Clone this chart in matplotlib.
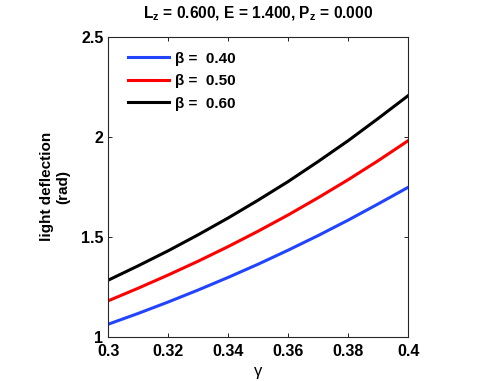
import matplotlib
matplotlib.use("Agg")
import matplotlib.pyplot as plt

plt.rcParams['font.family'] = ['Liberation Sans', 'DejaVu Sans']
plt.rcParams['mathtext.fontset'] = 'custom'
plt.rcParams['mathtext.rm'] = 'Liberation Sans:bold'
plt.rcParams['mathtext.bf'] = 'Liberation Sans:bold'
plt.rcParams['mathtext.it'] = 'Liberation Sans:bold'

gamma = [0.30, 0.31, 0.32, 0.33, 0.34, 0.35, 0.36, 0.37, 0.38, 0.39, 0.40]
beta_040 = [1.063, 1.117, 1.174, 1.234, 1.297, 1.363, 1.433, 1.506, 1.583, 1.664, 1.747]
beta_050 = [1.180, 1.243, 1.309, 1.378, 1.451, 1.528, 1.609, 1.695, 1.785, 1.880, 1.980]
beta_060 = [1.283, 1.355, 1.430, 1.510, 1.594, 1.683, 1.776, 1.876, 1.980, 2.091, 2.205]
labels = ['β =  0.40', 'β =  0.50', 'β =  0.60']
colors = ['#2244ff', '#ff0000', '#000000']
xticks = [0.3, 0.32, 0.34, 0.36, 0.38, 0.4]
xticklabels = ['0.3', '0.32', '0.34', '0.36', '0.38', '0.4']
yticks = [1, 1.5, 2, 2.5]
yticklabels = ['1', '1.5', '2', '2.5']

fig = plt.figure(figsize=(4.99, 3.81), dpi=100)
ax = fig.add_axes([0.217, 0.116, 0.601, 0.788])
for ys, lab, c in zip([beta_040, beta_050, beta_060], labels, colors):
    ax.plot(gamma, ys, color=c, lw=2.2, label=lab)

ax.set_xlim(0.3, 0.4)
ax.set_ylim(1, 2.5)
ax.set_xticks(xticks)
ax.set_xticklabels(xticklabels, fontsize=11.5, fontweight='bold')
ax.set_yticks(yticks)
ax.set_yticklabels(yticklabels, fontsize=11.5, fontweight='bold')
ax.tick_params(direction='in', top=True, right=True, length=3, width=0.6)
ax.tick_params(axis='x', pad=5)
ax.tick_params(axis='y', pad=3.5)
for s in ax.spines.values():
    s.set_linewidth(0.8)
    s.set_color('#262626')

ax.set_xlabel('γ', fontsize=12, labelpad=4)
ax.set_ylabel('light deflection\n(rad)', fontsize=11, fontweight='bold', labelpad=8)
ax.set_title(r'L$_\mathregular{z}$ = 0.600, E = 1.400, P$_\mathregular{z}$ = 0.000',
             fontsize=11.2, fontweight='bold', pad=13)

leg = ax.legend(loc='upper left', frameon=False, prop={'size': 11, 'weight': 'bold'},
                handlelength=2.7, handletextpad=0.4, labelspacing=0.55,
                borderaxespad=0.3, bbox_to_anchor=(0.03, 0.985))

fig.savefig('out.png', dpi=100)
